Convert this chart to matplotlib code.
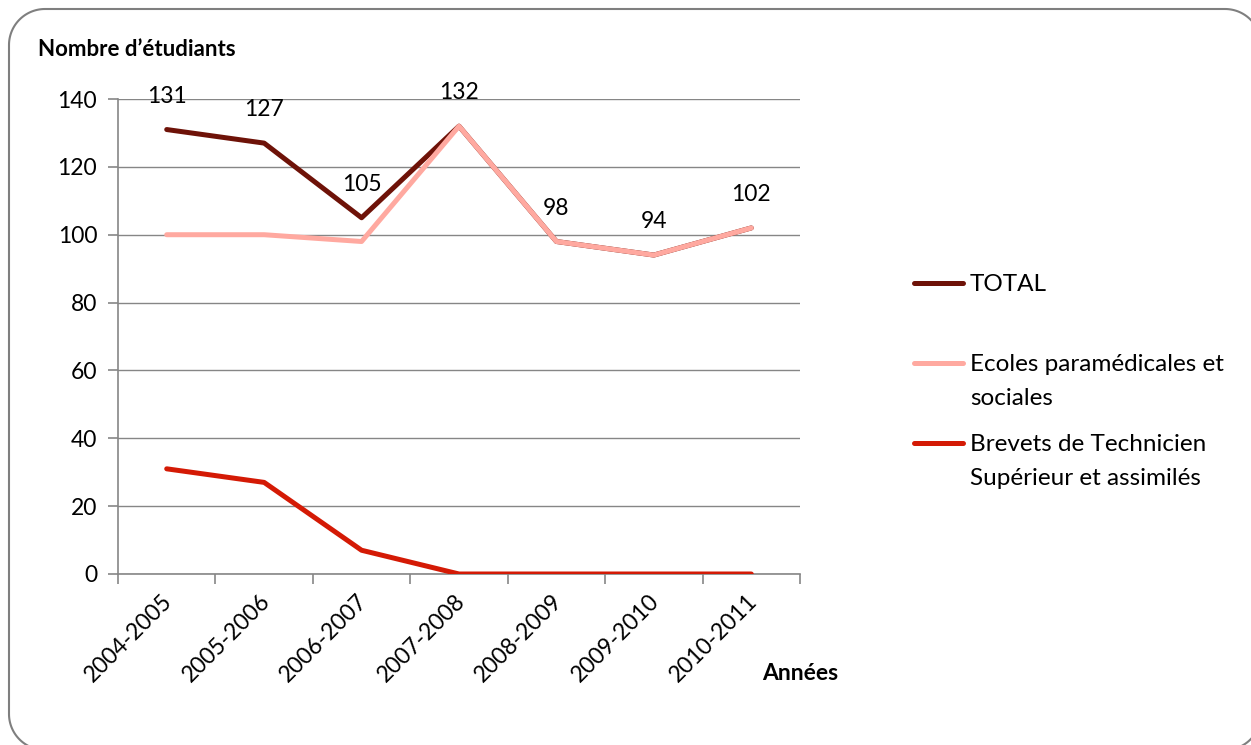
import matplotlib
matplotlib.use("Agg")
import matplotlib.pyplot as plt
from matplotlib.lines import Line2D
from matplotlib.transforms import ScaledTranslation
import numpy as np

years = ["2004-2005", "2005-2006", "2006-2007", "2007-2008", "2008-2009", "2009-2010", "2010-2011"]
total = [131, 127, 105, 132, 98, 94, 102]
ecoles = [100, 100, 98, 132, 98, 94, 102]
brevets = [31, 27, 7, 0, 0, 0, 0]
series_names = ["TOTAL", "Ecoles paramédicales et\nsociales", "Brevets de Technicien\nSupérieur et assimilés"]
colors = ["#6E1208", "#FFA9A0", "#D41A05"]
yticks = [0, 20, 40, 60, 80, 100, 120, 140]

plt.rcParams['font.family'] = ['Lato', 'DejaVu Sans']
FS = 16.5
W, H = 1251, 745
fig = plt.figure(figsize=(W / 100, H / 100), dpi=100)

# rounded border drawn in figure-fraction coords (pixel geometry, y measured from top)
L, T, R, B, r = 9, 9, 1261, 750, 36
def arc(cx, cy, a0, a1):
    t = np.radians(np.linspace(a0, a1, 30))
    return cx + r * np.cos(t), cy - r * np.sin(t)
pts_x, pts_y = [], []
for (cx, cy, a0, a1) in [(R - r, T + r, 0, 90), (L + r, T + r, 90, 180),
                         (L + r, B - r, 180, 270), (R - r, B - r, 270, 360)]:
    ax_, ay_ = arc(cx, cy, a0, a1)
    pts_x.extend(ax_); pts_y.extend(ay_)
pts_x.append(pts_x[0]); pts_y.append(pts_y[0])
fig.add_artist(Line2D(np.array(pts_x) / W, 1 - np.array(pts_y) / H, color="#7f7f7f",
                      lw=1.5, transform=fig.transFigure))

ax = fig.add_axes([118 / W, (H - 574) / H, (800 - 118) / W, (574 - 99) / H])
x = np.arange(len(years))
ax.plot(x, total, color=colors[0], lw=3.6, solid_capstyle='round', zorder=3)
ax.plot(x, ecoles, color=colors[1], lw=3.6, solid_capstyle='round', zorder=4)
ax.plot(x, brevets, color=colors[2], lw=3.6, solid_capstyle='round', zorder=3)

for xi, v in zip(x, total):
    ax.annotate(str(v), (xi, v), xytext=(0, 24), textcoords='offset points',
                ha='center', va='center', fontsize=FS, zorder=5)

ax.set_xlim(-0.5, len(years) - 0.5)
ax.set_ylim(0, 140)
ax.set_yticks(yticks)
ax.set_yticklabels([str(t) for t in yticks], fontsize=FS)
ax.grid(axis='y', color='#868686', lw=1.0)
ax.set_axisbelow(True)
for s in ['top', 'right']:
    ax.spines[s].set_visible(False)
for s in ['left', 'bottom']:
    ax.spines[s].set_color('#868686')
    ax.spines[s].set_linewidth(1.2)
ax.tick_params(axis='y', length=7, width=1.2, color='#868686', pad=8)

ax.set_xticks(x)
ax.set_xticklabels(years, rotation=45, ha='right', rotation_mode='anchor', fontsize=FS)
ax.tick_params(axis='x', which='major', length=0, pad=12)
shift = ScaledTranslation(-5 / 100, 0, fig.dpi_scale_trans)
for lbl in ax.get_xticklabels():
    lbl.set_transform(lbl.get_transform() + shift)
ax.set_xticks(np.arange(-0.5, len(years)), minor=True)
ax.tick_params(axis='x', which='minor', length=7, width=1.2, color='#868686')

fig.text(38 / W, 1 - 50 / H, "Nombre d’étudiants", fontsize=16, fontweight='bold',
         ha='left', va='center')
fig.text(762 / W, 1 - 673 / H, "Années", fontsize=16.5, fontweight='bold',
         ha='left', va='center')

# legend
leg_y = [283, 363, 443]
for name, c, yy in zip(series_names, colors, leg_y):
    fig.add_artist(Line2D([914 / W, 963 / W], [1 - yy / H, 1 - yy / H], color=c, lw=3.6,
                          solid_capstyle='round', transform=fig.transFigure))
    fig.text(970 / W, 1 - (yy - 9) / H, name, fontsize=17.5, ha='left', va='top',
             linespacing=1.75)

fig.savefig("out.png", dpi=100)
